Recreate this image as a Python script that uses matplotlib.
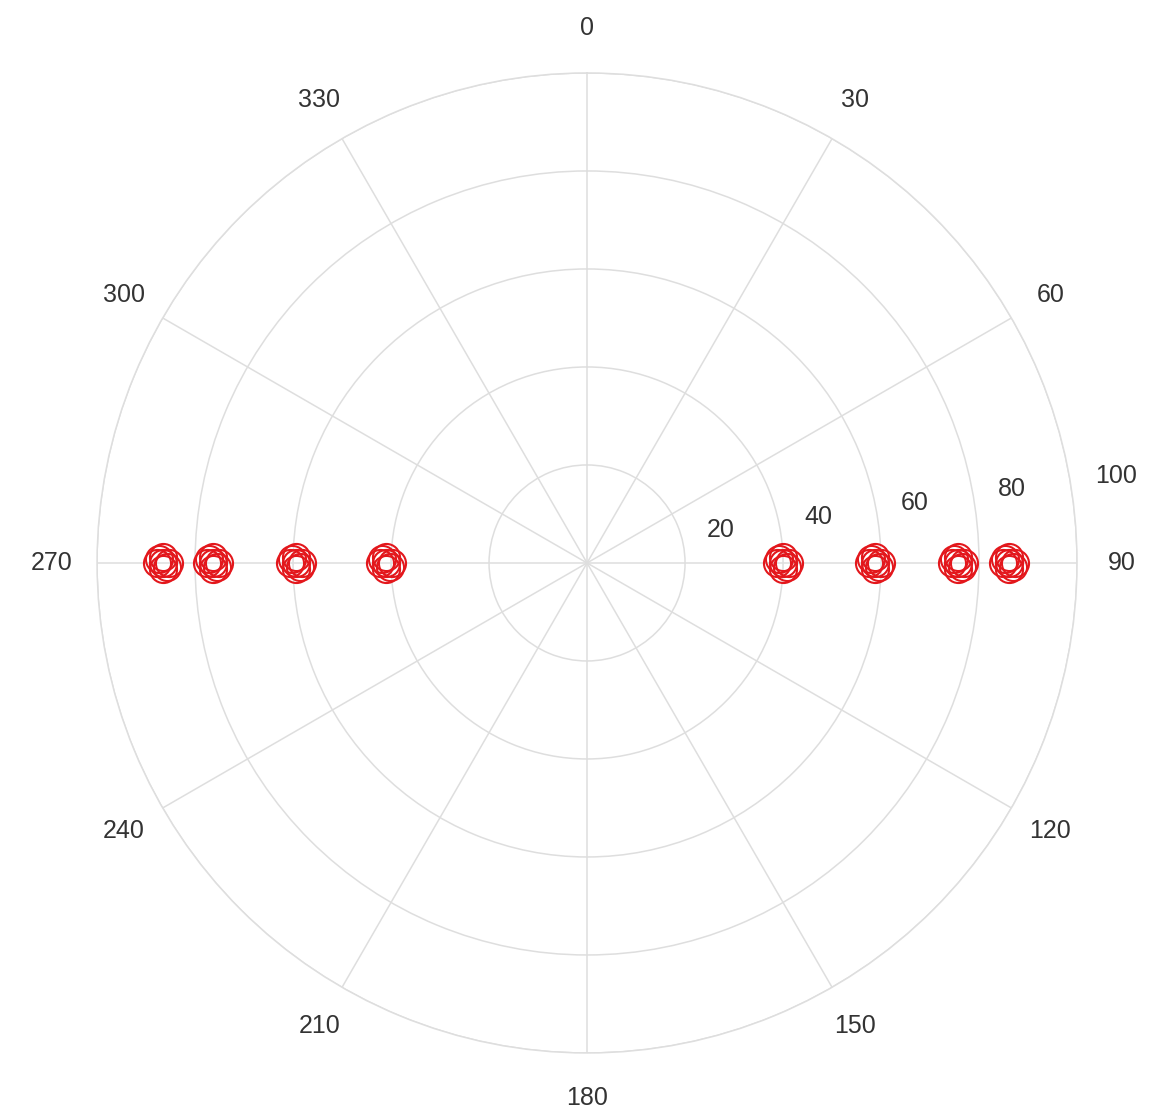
import numpy as np
import matplotlib
matplotlib.use("Agg")
import matplotlib.pyplot as plt

# angle (degrees) and radius of every point
# (each blob in the picture is a handful of overlapping open circles)
theta_deg = [90, 90, 90, 91.75, 88.25, 91.17, 88.83,
             90, 90, 90, 91.19, 88.81, 90.80, 89.20,
             90, 90, 90, 90.93, 89.07, 90.62, 89.38,
             90, 90, 90, 90.81, 89.19, 90.54, 89.46,
             270, 270, 270, 271.71, 268.29, 271.14, 268.86,
             270, 270, 270, 271.18, 268.82, 270.79, 269.21,
             270, 270, 270, 270.92, 269.08, 270.61, 269.39,
             270, 270, 270, 270.81, 269.19, 270.54, 269.46]
radius = [40.0, 41.2, 38.8, 40.0, 40.0, 40.8, 39.2,
          58.8, 60.0, 57.6, 58.8, 58.8, 59.6, 58.0,
          75.7, 76.9, 74.5, 75.7, 75.7, 76.5, 74.9,
          86.1, 87.3, 84.9, 86.1, 86.1, 86.9, 85.3,
          41.0, 42.2, 39.8, 41.0, 41.0, 41.8, 40.2,
          59.4, 60.6, 58.2, 59.4, 59.4, 60.2, 58.6,
          76.3, 77.5, 75.1, 76.3, 76.3, 77.1, 75.5,
          86.5, 87.7, 85.3, 86.5, 86.5, 87.3, 85.7]

r_ticks = [20, 40, 60, 80, 100]
theta_ticks = [0, 30, 60, 90, 120, 150, 180, 210, 240, 270, 300, 330]

plt.rcParams['font.family'] = ['Liberation Sans', 'DejaVu Sans']
text_color = '#333333'
grid_color = '#dedede'

fig = plt.figure(figsize=(11.65, 11.17), dpi=100)
ax = fig.add_axes([0.0833, 0.0573, 0.8412, 0.8774], projection='polar')

ax.set_theta_zero_location('N')
ax.set_theta_direction(-1)

ax.plot(np.deg2rad(theta_deg), radius, linestyle='none', marker='o',
        markersize=19.5, markerfacecolor='none', markeredgecolor='#e3171c',
        markeredgewidth=1.5)

ax.set_ylim(0, 100)
ax.set_yticks(r_ticks)
ax.set_yticklabels([])
ax.set_xticks(np.deg2rad(theta_ticks))
ax.set_xticklabels([str(v) for v in theta_ticks], fontsize=18, color=text_color)
ax.tick_params(axis='x', pad=22)

# radial labels sit a little off the 82 degree spoke
for r in r_ticks:
    ax.annotate(str(r), xy=(np.deg2rad(82), r), xytext=(23, 19),
                textcoords='offset pixels', ha='left', va='center',
                fontsize=18, color=text_color, annotation_clip=False)

ax.grid(True, color=grid_color, linewidth=1.1)
ax.spines['polar'].set_color(grid_color)
ax.spines['polar'].set_linewidth(1.1)

fig.savefig('out.png', dpi=100)
